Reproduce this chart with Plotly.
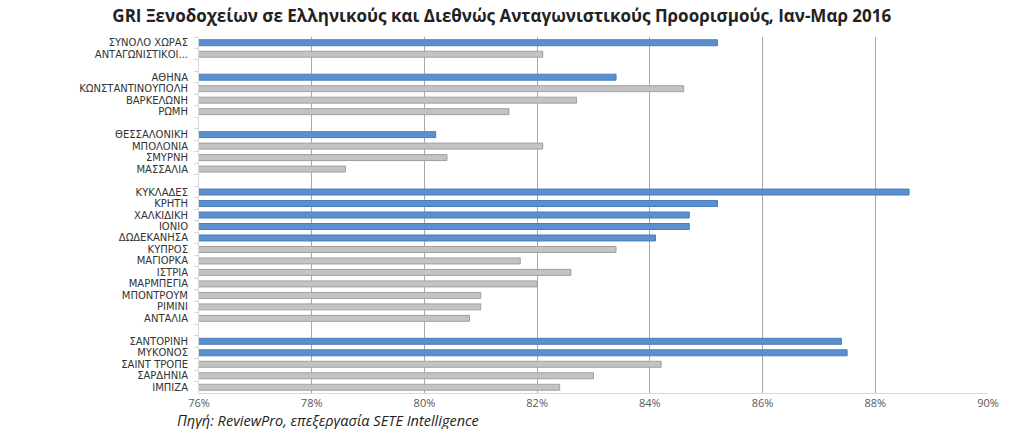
import plotly.graph_objects as go

# Categories (top to bottom); blank entries are gaps between groups
categories = [
    "ΣΥΝΟΛΟ ΧΩΡΑΣ", "ΑΝΤΑΓΩΝΙΣΤΙΚΟΙ...", " ",
    "ΑΘΗΝΑ", "ΚΩΝΣΤΑΝΤΙΝΟΥΠΟΛΗ", "ΒΑΡΚΕΛΩΝΗ", "ΡΩΜΗ", "  ",
    "ΘΕΣΣΑΛΟΝΙΚΗ", "ΜΠΟΛΟΝΙΑ", "ΣΜΥΡΝΗ", "ΜΑΣΣΑΛΙΑ", "   ",
    "ΚΥΚΛΑΔΕΣ", "ΚΡΗΤΗ", "ΧΑΛΚΙΔΙΚΗ", "ΙΟΝΙΟ", "ΔΩΔΕΚΑΝΗΣΑ",
    "ΚΥΠΡΟΣ", "ΜΑΓΙΟΡΚΑ", "ΙΣΤΡΙΑ", "ΜΑΡΜΠΕΓΙΑ", "ΜΠΟΝΤΡΟΥΜ", "ΡΙΜΙΝΙ", "ΑΝΤΑΛΙΑ", "    ",
    "ΣΑΝΤΟΡΙΝΗ", "ΜΥΚΟΝΟΣ", "ΣΑΙΝΤ ΤΡΟΠΕ", "ΣΑΡΔΗΝΙΑ", "ΙΜΠΙΖΑ",
]

# GRI values in % (None = gap)
gri_values = [
    85.2, 82.1, None,
    83.4, 84.6, 82.7, 81.5, None,
    80.2, 82.1, 80.4, 78.6, None,
    88.6, 85.2, 84.7, 84.7, 84.1,
    83.4, 81.7, 82.6, 82.0, 81.0, 81.0, 80.8, None,
    87.4, 87.5, 84.2, 83.0, 82.4,
]

# 1 = Greek destination (blue), 0 = competitor (gray)
greek_flag = [
    1, 0, 0,
    1, 0, 0, 0, 0,
    1, 0, 0, 0, 0,
    1, 1, 1, 1, 1,
    0, 0, 0, 0, 0, 0, 0, 0,
    1, 1, 0, 0, 0,
]

x_ticks = [76, 78, 80, 82, 84, 86, 88, 90]
x_tick_labels = ["76%", "78%", "80%", "82%", "84%", "86%", "88%", "90%"]

BLUE, BLUE_EDGE = "#5B8FD0", "#4A7EBB"
GRAY, GRAY_EDGE = "#C3C3C3", "#A0A0A0"

fill_colors = [BLUE if g else GRAY for g in greek_flag]
edge_colors = [BLUE_EDGE if g else GRAY_EDGE for g in greek_flag]

fig = go.Figure(
    go.Bar(
        x=gri_values,
        y=categories,
        orientation="h",
        width=0.52,
        marker=dict(color=fill_colors, line=dict(color=edge_colors, width=1)),
        hoverinfo="x+y",
    )
)

fig.update_layout(
    width=1024,
    height=429,
    margin=dict(l=199, r=36, t=37, b=36),
    paper_bgcolor="white",
    plot_bgcolor="white",
    showlegend=False,
    title=dict(
        text="<b>GRI Ξενοδοχείων σε Ελληνικούς και Διεθνώς Ανταγωνιστικούς Προορισμούς, Ιαν-Μαρ 2016</b>",
        x=0.49,
        xref="container",
        xanchor="center",
        y=0.962,
        yanchor="middle",
        font=dict(family="Open Sans", size=17, color="#222222"),
    ),
    bargap=0.48,
)

fig.update_xaxes(
    range=[76, 90],
    tickvals=x_ticks,
    ticktext=x_tick_labels,
    showgrid=True,
    gridcolor="#A8A8A8",
    gridwidth=1,
    zeroline=False,
    showline=True,
    linecolor="#D9D9D9",
    linewidth=1,
    ticks="",
    tickfont=dict(family="Open Sans", size=11, color="#595959"),
    fixedrange=True,
)

fig.update_yaxes(
    categoryorder="array",
    categoryarray=categories,
    autorange="reversed",
    tickmode="linear",
    tick0=0,
    dtick=1,
    showgrid=False,
    showline=True,
    linecolor="#D9D9D9",
    linewidth=1,
    ticks="outside",
    tickson="boundaries",
    ticklen=4,
    tickcolor="#D9D9D9",
    ticklabelstandoff=8,
    tickfont=dict(family="DejaVu Sans", size=10, color="#333333"),
    fixedrange=True,
)

fig.add_annotation(
    text="<i>Πηγή: ReviewPro, επεξεργασία SETE Intelligence</i>",
    xref="paper",
    yref="paper",
    x=-0.031,
    y=-0.045,
    xanchor="left",
    yanchor="top",
    showarrow=False,
    font=dict(family="Open Sans", size=14.5, color="#222222"),
)

fig.write_html("out.html")
